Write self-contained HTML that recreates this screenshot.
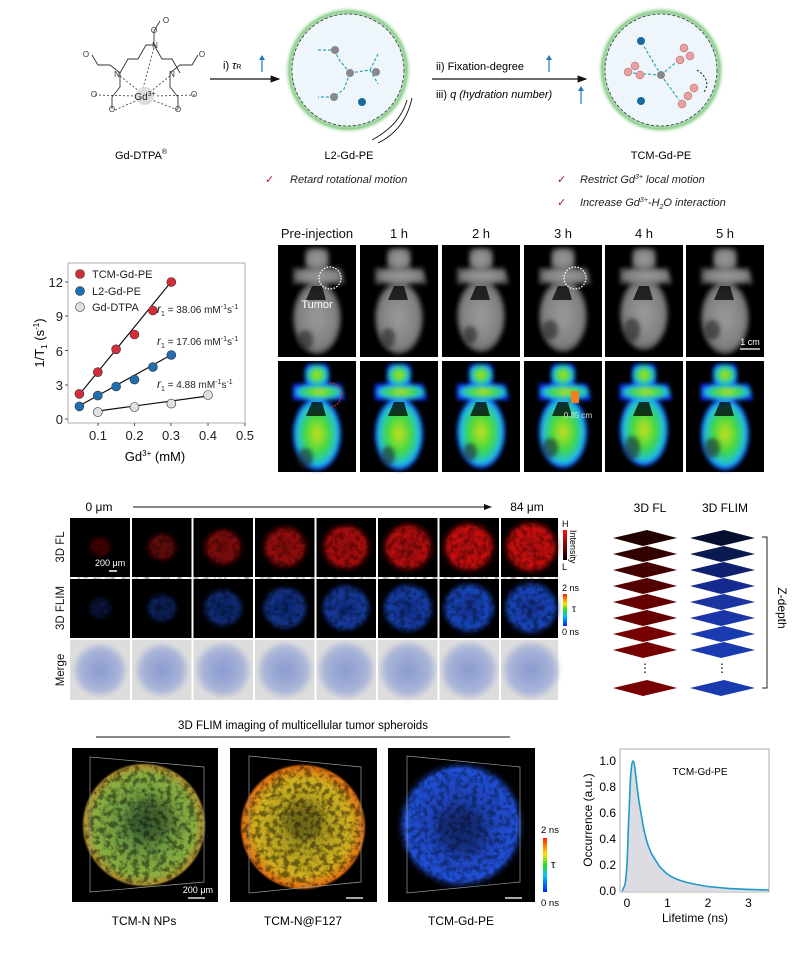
<!DOCTYPE html>
<html><head><meta charset="utf-8"><style>
html,body{margin:0;padding:0;background:#fff}
svg{display:block;font-family:"Liberation Sans",Arial,sans-serif}
</style></head><body>
<svg width="799" height="963" viewBox="0 0 799 963" xmlns="http://www.w3.org/2000/svg">
<defs>
<filter id="b2"><feGaussianBlur stdDeviation="2"/></filter>
<filter id="b4"><feGaussianBlur stdDeviation="4"/></filter>
<filter id="spk" x="0" y="0" width="100%" height="100%"><feTurbulence type="fractalNoise" baseFrequency="0.18" numOctaves="3" seed="4"/><feColorMatrix type="matrix" values="0 0 0 0 0  0 0 0 0 0  0 0 0 0 0  0 0 0 -4 2.3"/></filter>
<clipPath id="c1"><circle cx="144" cy="825" r="60"/></clipPath>
<clipPath id="c2"><circle cx="303" cy="827" r="61"/></clipPath>
<clipPath id="c3"><circle cx="461" cy="825" r="63"/></clipPath>
<radialGradient id="gr" cx="50%" cy="50%" r="50%"><stop offset="0" stop-color="#a01010"/><stop offset="0.75" stop-color="#d01010"/><stop offset="1" stop-color="#300" stop-opacity="0"/></radialGradient>
<radialGradient id="gb" cx="50%" cy="50%" r="50%"><stop offset="0" stop-color="#10308a"/><stop offset="0.8" stop-color="#1a48c0"/><stop offset="1" stop-color="#001" stop-opacity="0"/></radialGradient>
<radialGradient id="gm" cx="50%" cy="50%" r="55%"><stop offset="0" stop-color="#8a9ad0"/><stop offset="0.7" stop-color="#a8b4d8"/><stop offset="1" stop-color="#d8d8dc"/></radialGradient>
<radialGradient id="gs1"><stop offset="0" stop-color="#4a7a40"/><stop offset="0.8" stop-color="#8ab040"/><stop offset="0.95" stop-color="#b09030"/><stop offset="1" stop-color="#000" stop-opacity="0"/></radialGradient>
<radialGradient id="gs2"><stop offset="0" stop-color="#908a20"/><stop offset="0.75" stop-color="#d0b020"/><stop offset="0.95" stop-color="#e07010"/><stop offset="1" stop-color="#000" stop-opacity="0"/></radialGradient>
<radialGradient id="gs3"><stop offset="0" stop-color="#1a3490"/><stop offset="0.85" stop-color="#2050d8"/><stop offset="1" stop-color="#000" stop-opacity="0"/></radialGradient>
<radialGradient id="glow"><stop offset="0.8" stop-color="#e8f4ff"/><stop offset="0.92" stop-color="#8fd08f"/><stop offset="1" stop-color="#fff" stop-opacity="0"/></radialGradient>
<linearGradient id="cbj" x1="0" y1="1" x2="0" y2="0"><stop offset="0" stop-color="#0020ff"/><stop offset="0.3" stop-color="#00c0ff"/><stop offset="0.5" stop-color="#20e020"/><stop offset="0.7" stop-color="#ffe000"/><stop offset="1" stop-color="#ff2000"/></linearGradient>
<linearGradient id="cbr" x1="0" y1="1" x2="0" y2="0"><stop offset="0" stop-color="#000"/><stop offset="1" stop-color="#ff1010"/></linearGradient>
<radialGradient id="jet"><stop offset="0" stop-color="#c8e020"/><stop offset="0.5" stop-color="#40d840"/><stop offset="0.85" stop-color="#20c0e0"/><stop offset="1" stop-color="#1030ff"/></radialGradient>
<radialGradient id="gray"><stop offset="0" stop-color="#9a9a9a"/><stop offset="0.8" stop-color="#808080"/><stop offset="1" stop-color="#505050"/></radialGradient>
<marker id="ah" markerWidth="8" markerHeight="8" refX="7" refY="4" orient="auto"><path d="M0,1 L8,4 L0,7z" fill="#111"/></marker>
</defs>

<!-- ===== Top scheme ===== -->
<g stroke="#333" stroke-width="0.9" fill="none">
<path d="M120,73 l8,-14 l10,0 l8,-14 l8,0 l8,14 l10,0 l8,14"/>
<path d="M154,45 l0,-14 l6,-10"/>
<path d="M120,73 l-10,-8 l-12,0 l-6,-10"/>
<path d="M120,73 l0,14 l-8,10 l0,12"/>
<path d="M170,73 l10,-8 l12,0 l6,-10"/>
<path d="M170,73 l0,14 l8,10 l0,12"/>
</g>
<g stroke="#333" stroke-width="0.8" stroke-dasharray="2,2">
<path d="M120,76 L140,92 M154,48 L143,88 M170,76 L150,92 M95,95 L135,96 M195,95 L155,96 M115,110 L138,100 M178,110 L152,100"/>
</g>
<circle cx="145" cy="96" r="9" fill="#ddd"/>
<text x="145" y="100" font-size="10" text-anchor="middle" fill="#222">Gd<tspan font-size="7" dy="-4">3+</tspan></text>
<g font-size="8" fill="#333" text-anchor="middle">
<text x="117" y="77">N</text><text x="155" y="48">N</text><text x="172" y="77">N</text>
<text x="154" y="33">O</text><text x="166" y="23">O</text><text x="86" y="57">O</text><text x="94" y="97">O</text>
<text x="202" y="57">O</text><text x="194" y="97">O</text><text x="112" y="112">O</text><text x="178" y="112">O</text>
</g>
<text x="141" y="159" font-size="11" text-anchor="middle">Gd-DTPA<tspan font-size="7" dy="-5">®</tspan></text>

<line x1="210" y1="79" x2="279" y2="79" stroke="#111" stroke-width="1.2" marker-end="url(#ah)"/>
<text x="223" y="69" font-size="11">i) <tspan font-style="italic">τ</tspan><tspan font-size="7">R</tspan></text>
<line x1="262" y1="72" x2="262" y2="58" stroke="#1a7ac0" stroke-width="1.2"/><path d="M259,60 l3,-5 l3,5z" fill="#1a7ac0"/>

<circle cx="348" cy="70" r="64" fill="url(#glow)"/>
<circle cx="348" cy="70" r="56" fill="#eef5fb" stroke="#333" stroke-dasharray="3,2" stroke-width="0.8"/>
<g stroke="#2aa5b5" stroke-width="1.2" fill="none" stroke-dasharray="3,2"><path d="M318,50 l16,0 M350,73 l-10,-12 l-6,-11 M350,73 l20,-3 M350,73 l-6,16 l-10,8 l-16,0 M370,70 l8,-16 M370,70 l8,14"/></g>
<g fill="#888"><circle cx="335" cy="50" r="4"/><circle cx="350" cy="73" r="4"/><circle cx="376" cy="72" r="4"/><circle cx="334" cy="97" r="4"/></g>
<circle cx="362" cy="102" r="4" fill="#1a6aa0"/>
<path d="M412,98 Q405,130 378,143 M407,100 Q400,125 372,140" stroke="#111" fill="none" stroke-width="0.9"/>
<text x="349" y="159" font-size="11" text-anchor="middle">L2-Gd-PE</text>

<line x1="432" y1="79" x2="586" y2="79" stroke="#111" stroke-width="1.2" marker-end="url(#ah)"/>
<text x="436" y="70" font-size="11">ii) Fixation-degree</text>
<text x="436" y="98" font-size="11">iii) <tspan font-style="italic">q (hydration number)</tspan></text>
<line x1="549" y1="72" x2="549" y2="58" stroke="#1a7ac0" stroke-width="1.2"/><path d="M546,60 l3,-5 l3,5z" fill="#1a7ac0"/>
<line x1="581" y1="104" x2="581" y2="89" stroke="#1a7ac0" stroke-width="1.2"/><path d="M578,91 l3,-5 l3,5z" fill="#1a7ac0"/>

<circle cx="661" cy="70" r="64" fill="url(#glow)"/>
<circle cx="661" cy="70" r="56" fill="#eef5fb" stroke="#333" stroke-dasharray="3,2" stroke-width="0.8"/>
<g stroke="#2aa5b5" stroke-width="1.2" fill="none" stroke-dasharray="3,2"><path d="M661,75 l-18,-30 M661,75 l-30,-2 M661,75 l18,-15 M661,75 l18,25"/></g>
<circle cx="661" cy="75" r="4" fill="#888"/>
<g fill="#e8a0a0" stroke="#b06060" stroke-width="0.5"><circle cx="628" cy="72" r="4"/><circle cx="635" cy="66" r="4"/><circle cx="640" cy="75" r="4"/><circle cx="684" cy="48" r="4"/><circle cx="690" cy="56" r="4"/><circle cx="680" cy="60" r="4"/><circle cx="688" cy="96" r="4"/><circle cx="694" cy="88" r="4"/><circle cx="682" cy="104" r="4"/></g>
<circle cx="641" cy="41" r="4" fill="#1a6aa0"/><circle cx="641" cy="101" r="4" fill="#1a6aa0"/>
<path d="M697,70 Q712,80 704,92" stroke="#111" fill="none" stroke-dasharray="2,2"/>
<text x="661" y="159" font-size="11" text-anchor="middle">TCM-Gd-PE</text>

<g fill="#a02040" font-size="11"><text x="265" y="183">✓</text><text x="557" y="183">✓</text><text x="557" y="206">✓</text></g>
<g font-size="11" font-style="italic" fill="#222">
<text x="290" y="183">Retard rotational motion</text>
<text x="580" y="183">Restrict Gd<tspan font-size="7" dy="-4">3+</tspan><tspan dy="4"> local motion</tspan></text>
<text x="580" y="206">Increase Gd<tspan font-size="7" dy="-4">3+</tspan><tspan dy="4">-H</tspan><tspan font-size="7" dy="3">2</tspan><tspan dy="-3">O interaction</tspan></text>
</g>

<!-- ===== R1 chart ===== -->
<rect x="68" y="263" width="177" height="160" fill="none" stroke="#999" stroke-width="0.8"/>
<g font-size="13" fill="#222" text-anchor="end">
<text x="63" y="424">0</text><text x="63" y="390">3</text><text x="63" y="356">6</text><text x="63" y="321">9</text><text x="63" y="287">12</text>
</g>
<g stroke="#555"><path d="M68,419h-3M68,385h-3M68,350.5h-3M68,316h-3M68,282h-3M98,423v3M134.5,423v3M171,423v3M208,423v3M245,423v3"/></g>
<g font-size="13" fill="#222" text-anchor="middle">
<text x="98" y="440">0.1</text><text x="134.5" y="440">0.2</text><text x="171" y="440">0.3</text><text x="208" y="440">0.4</text><text x="245" y="440">0.5</text>
</g>
<text x="155" y="461" font-size="13" text-anchor="middle">Gd<tspan font-size="8" dy="-5">3+</tspan><tspan dy="5"> (mM)</tspan></text>
<text transform="translate(44,343) rotate(-90)" font-size="13" text-anchor="middle">1/T<tspan font-size="8" dy="3">1</tspan><tspan dy="-3"> (s</tspan><tspan font-size="8" dy="-5">-1</tspan><tspan dy="5">)</tspan></text>
<g stroke="#111" stroke-width="1.2">
<line x1="79" y1="395" x2="171" y2="282"/><line x1="79" y1="406" x2="171" y2="355"/><line x1="98" y1="411" x2="208" y2="396"/>
</g>
<g stroke="#333" stroke-width="0.6">
<g fill="#d62c3a"><circle cx="79.4" cy="393.9" r="4.5"/><circle cx="97.8" cy="372.2" r="4.5"/><circle cx="116.1" cy="349.3" r="4.5"/><circle cx="134.5" cy="334.5" r="4.5"/><circle cx="152.9" cy="310.5" r="4.5"/><circle cx="171.3" cy="282" r="4.5"/></g>
<g fill="#1f6fb0"><circle cx="79.4" cy="406.4" r="4.5"/><circle cx="97.8" cy="395.6" r="4.5"/><circle cx="116.1" cy="386.5" r="4.5"/><circle cx="134.5" cy="379.6" r="4.5"/><circle cx="152.9" cy="367" r="4.5"/><circle cx="171.3" cy="355" r="4.5"/></g>
<g fill="#e0e0e0"><circle cx="97.8" cy="412.1" r="4.5"/><circle cx="134.5" cy="407" r="4.5"/><circle cx="171.3" cy="403.6" r="4.5"/><circle cx="208" cy="395" r="4.5"/></g>
<circle cx="80" cy="274" r="4.5" fill="#d62c3a"/><circle cx="80" cy="291" r="4.5" fill="#1f6fb0"/><circle cx="80" cy="307" r="4.5" fill="#e0e0e0"/>
</g>
<g font-size="11" fill="#222"><text x="92" y="278">TCM-Gd-PE</text><text x="92" y="295">L2-Gd-PE</text><text x="92" y="311">Gd-DTPA</text></g>
<g font-size="10" fill="#222">
<text x="157" y="313"><tspan font-style="italic" font-size="12">r</tspan><tspan font-size="7" dy="3">1</tspan><tspan dy="-3"> = 38.06 mM</tspan><tspan font-size="7" dy="-4">-1</tspan><tspan dy="4">s</tspan><tspan font-size="7" dy="-4">-1</tspan></text>
<text x="157" y="345"><tspan font-style="italic" font-size="12">r</tspan><tspan font-size="7" dy="3">1</tspan><tspan dy="-3"> = 17.06 mM</tspan><tspan font-size="7" dy="-4">-1</tspan><tspan dy="4">s</tspan><tspan font-size="7" dy="-4">-1</tspan></text>
<text x="157" y="388"><tspan font-style="italic" font-size="12">r</tspan><tspan font-size="7" dy="3">1</tspan><tspan dy="-3"> = 4.88 mM</tspan><tspan font-size="7" dy="-4">-1</tspan><tspan dy="4">s</tspan><tspan font-size="7" dy="-4">-1</tspan></text>
</g>

<!-- ===== MRI grid ===== -->
<g font-size="13" fill="#111" text-anchor="middle">
<text x="317" y="238">Pre-injection</text><text x="399" y="238">1 h</text><text x="481" y="238">2 h</text><text x="563" y="238">3 h</text><text x="644" y="238">4 h</text><text x="725" y="238">5 h</text>
</g>
<g>
<rect x="278" y="245" width="78" height="112" fill="#000"/><rect x="360" y="245" width="78" height="112" fill="#000"/><rect x="442" y="245" width="78" height="112" fill="#000"/><rect x="524" y="245" width="78" height="112" fill="#000"/><rect x="605" y="245" width="78" height="112" fill="#000"/><rect x="686" y="245" width="78" height="112" fill="#000"/>
<rect x="278" y="361" width="78" height="111" fill="#000"/><rect x="360" y="361" width="78" height="111" fill="#000"/><rect x="442" y="361" width="78" height="111" fill="#000"/><rect x="524" y="361" width="78" height="111" fill="#000"/><rect x="605" y="361" width="78" height="111" fill="#000"/><rect x="686" y="361" width="78" height="111" fill="#000"/>
</g>
<g filter="url(#b2)">
<g fill="url(#gray)">
<ellipse cx="317" cy="318" rx="24" ry="36"/><path d="M293,268 l48,0 l4,16 l-52,0z"/><rect x="305" y="248" width="24" height="22" rx="5"/>
<ellipse cx="399" cy="318" rx="24" ry="36"/><path d="M375,268 l48,0 l4,16 l-52,0z"/><rect x="387" y="248" width="24" height="22" rx="5"/>
<ellipse cx="481" cy="316" rx="24" ry="36"/><path d="M457,268 l48,0 l4,16 l-52,0z"/><rect x="469" y="248" width="24" height="22" rx="5"/>
<ellipse cx="563" cy="316" rx="24" ry="36"/><path d="M539,268 l48,0 l4,16 l-52,0z"/><rect x="551" y="248" width="24" height="22" rx="5"/>
<ellipse cx="644" cy="314" rx="24" ry="36"/><path d="M620,268 l48,0 l4,16 l-52,0z"/><rect x="632" y="248" width="24" height="22" rx="5"/>
<ellipse cx="725" cy="318" rx="24" ry="36"/><path d="M701,268 l48,0 l4,16 l-52,0z"/><rect x="713" y="248" width="24" height="22" rx="5"/>
</g>
<g fill="url(#jet)">
<ellipse cx="317" cy="434" rx="24" ry="36"/><path d="M293,384 l48,0 l4,16 l-52,0z"/><rect x="305" y="364" width="24" height="22" rx="5"/>
<ellipse cx="399" cy="434" rx="24" ry="36"/><path d="M375,384 l48,0 l4,16 l-52,0z"/><rect x="387" y="364" width="24" height="22" rx="5"/>
<ellipse cx="481" cy="432" rx="24" ry="36"/><path d="M457,384 l48,0 l4,16 l-52,0z"/><rect x="469" y="364" width="24" height="22" rx="5"/>
<ellipse cx="563" cy="432" rx="24" ry="36"/><path d="M539,384 l48,0 l4,16 l-52,0z"/><rect x="551" y="364" width="24" height="22" rx="5"/>
<ellipse cx="644" cy="430" rx="24" ry="36"/><path d="M620,384 l48,0 l4,16 l-52,0z"/><rect x="632" y="364" width="24" height="22" rx="5"/>
<ellipse cx="725" cy="434" rx="24" ry="36"/><path d="M701,384 l48,0 l4,16 l-52,0z"/><rect x="713" y="364" width="24" height="22" rx="5"/>
</g>
</g>
<g fill="#000" opacity="0.75">
<path d="M306,300 l6,-14 l10,0 l4,14z M388,300 l6,-14 l10,0 l4,14z M470,300 l6,-14 l10,0 l4,14z M552,300 l6,-14 l10,0 l4,14z M633,300 l6,-14 l10,0 l4,14z M714,300 l6,-14 l10,0 l4,14z"/>
<path d="M306,416 l6,-14 l10,0 l4,14z M388,416 l6,-14 l10,0 l4,14z M470,416 l6,-14 l10,0 l4,14z M552,416 l6,-14 l10,0 l4,14z M633,416 l6,-14 l10,0 l4,14z M714,416 l6,-14 l10,0 l4,14z"/>
</g>
<g fill="#222" opacity="0.6" filter="url(#b2)">
<ellipse cx="305" cy="340" rx="8" ry="10"/><ellipse cx="388" cy="338" rx="7" ry="10"/><ellipse cx="470" cy="335" rx="7" ry="9"/><ellipse cx="550" cy="330" rx="8" ry="10"/><ellipse cx="632" cy="330" rx="8" ry="12"/><ellipse cx="712" cy="330" rx="8" ry="10"/>
<ellipse cx="305" cy="458" rx="8" ry="10"/><ellipse cx="388" cy="456" rx="7" ry="10"/><ellipse cx="470" cy="452" rx="7" ry="9"/><ellipse cx="550" cy="448" rx="8" ry="10"/><ellipse cx="632" cy="448" rx="8" ry="12"/><ellipse cx="712" cy="448" rx="8" ry="10"/>
</g>
<circle cx="330" cy="278" r="11" fill="none" stroke="#fff" stroke-width="1.3" stroke-dasharray="1.5,1.5"/>
<circle cx="575" cy="278" r="11" fill="none" stroke="#fff" stroke-width="1.3" stroke-dasharray="1.5,1.5"/>
<path d="M330,383 a11,12 0 0 1 0,24" fill="none" stroke="#e03030" stroke-width="1.3" stroke-dasharray="1.5,1.5"/>
<text x="317" y="308" font-size="11" fill="#fff" text-anchor="middle">Tumor</text>
<text x="750" y="345" font-size="9" fill="#fff" text-anchor="middle">1 cm</text><line x1="740" y1="349" x2="760" y2="349" stroke="#fff" stroke-width="1.3"/>
<rect x="571" y="391" width="8" height="12" fill="#f08020"/>
<text x="578" y="418" font-size="8" fill="#ddd" text-anchor="middle">0.85 cm</text>

<!-- ===== Middle grid ===== -->
<text x="99" y="511" font-size="12" text-anchor="middle">0 μm</text>
<line x1="133" y1="507" x2="491" y2="507" stroke="#111" stroke-width="1" marker-end="url(#ah)"/>
<text x="527" y="511" font-size="12" text-anchor="middle">84 μm</text>
<g font-size="11.5" fill="#111" text-anchor="middle">
<text transform="translate(64,547) rotate(-90)">3D FL</text>
<text transform="translate(64,608) rotate(-90)">3D FLIM</text>
<text transform="translate(64,670) rotate(-90)">Merge</text>
</g>
<g>
<rect x="70" y="518" width="488" height="59" fill="#000"/>
<rect x="70" y="579" width="488" height="59" fill="#000"/>
<rect x="70" y="640" width="488" height="60" fill="#ddd"/>
</g>
<g filter="url(#b2)">
<g fill="url(#gr)">
<ellipse cx="100" cy="547" rx="12" ry="11" opacity="0.35"/><ellipse cx="162" cy="547" rx="16" ry="15" opacity="0.5"/><ellipse cx="223" cy="547" rx="21" ry="20" opacity="0.65"/><ellipse cx="285" cy="547" rx="24" ry="23" opacity="0.75"/><ellipse cx="346" cy="547" rx="26" ry="25" opacity="0.85"/><ellipse cx="408" cy="547" rx="27" ry="26" opacity="0.9"/><ellipse cx="469" cy="547" rx="28" ry="27"/><ellipse cx="531" cy="547" rx="29" ry="28"/>
</g>
<g fill="url(#gb)">
<ellipse cx="100" cy="608" rx="12" ry="11" opacity="0.35"/><ellipse cx="162" cy="608" rx="16" ry="15" opacity="0.5"/><ellipse cx="223" cy="608" rx="21" ry="20" opacity="0.65"/><ellipse cx="285" cy="608" rx="24" ry="23" opacity="0.75"/><ellipse cx="346" cy="608" rx="26" ry="25" opacity="0.85"/><ellipse cx="408" cy="608" rx="27" ry="26" opacity="0.9"/><ellipse cx="469" cy="608" rx="28" ry="27"/><ellipse cx="531" cy="608" rx="29" ry="28"/>
</g>
<g fill="url(#gm)">
<ellipse cx="100" cy="670" rx="26" ry="26"/><ellipse cx="162" cy="670" rx="26" ry="26"/><ellipse cx="223" cy="670" rx="27" ry="27"/><ellipse cx="285" cy="670" rx="27" ry="27"/><ellipse cx="346" cy="670" rx="28" ry="28"/><ellipse cx="408" cy="670" rx="28" ry="28"/><ellipse cx="469" cy="670" rx="28" ry="28"/><ellipse cx="531" cy="670" rx="28" ry="28"/>
</g>
</g>
<rect x="70" y="518" width="488" height="120" filter="url(#spk)" opacity="0.35"/>
<g stroke="#fff" stroke-width="2">
<line x1="131" y1="518" x2="131" y2="700"/><line x1="192.5" y1="518" x2="192.5" y2="700"/><line x1="254" y1="518" x2="254" y2="700"/><line x1="315.5" y1="518" x2="315.5" y2="700"/><line x1="377" y1="518" x2="377" y2="700"/><line x1="438.5" y1="518" x2="438.5" y2="700"/><line x1="500" y1="518" x2="500" y2="700"/>
</g>
<text x="95" y="566" font-size="9" fill="#fff">200 μm</text><line x1="109" y1="571" x2="117" y2="571" stroke="#fff" stroke-width="1.5"/>
<rect x="563" y="530" width="4" height="30" fill="url(#cbr)"/>
<text x="562" y="527" font-size="9">H</text><text x="562" y="570" font-size="9">L</text>
<text transform="translate(570,530) rotate(90)" font-size="9">Intensity</text>
<rect x="563" y="594" width="4" height="32" fill="url(#cbj)"/>
<text x="562" y="591" font-size="9">2 ns</text><text x="562" y="635" font-size="9">0 ns</text><text x="572" y="612" font-size="10">τ</text>

<!-- ===== 3D stacks ===== -->
<text x="650" y="512" font-size="12" text-anchor="middle">3D FL</text>
<text x="725" y="512" font-size="12" text-anchor="middle">3D FLIM</text>
<g>
<path d="M613,538 l34,-8 l30,8 l-34,8z" fill="#200"/><path d="M613,554 l34,-8 l30,8 l-34,8z" fill="#300"/><path d="M613,570 l34,-8 l30,8 l-34,8z" fill="#400"/><path d="M613,586 l34,-8 l30,8 l-34,8z" fill="#500"/><path d="M613,602 l34,-8 l30,8 l-34,8z" fill="#600"/><path d="M613,618 l34,-8 l30,8 l-34,8z" fill="#600"/><path d="M613,634 l34,-8 l30,8 l-34,8z" fill="#700"/><path d="M613,650 l34,-8 l30,8 l-34,8z" fill="#700"/>
<path d="M613,688 l34,-8 l30,8 l-34,8z" fill="#700"/>
<path d="M690,538 l34,-8 l31,8 l-34,8z" fill="#051030"/><path d="M690,554 l34,-8 l31,8 l-34,8z" fill="#0a1a50"/><path d="M690,570 l34,-8 l31,8 l-34,8z" fill="#102070"/><path d="M690,586 l34,-8 l31,8 l-34,8z" fill="#152a90"/><path d="M690,602 l34,-8 l31,8 l-34,8z" fill="#1a35a0"/><path d="M690,618 l34,-8 l31,8 l-34,8z" fill="#1a35a8"/><path d="M690,634 l34,-8 l31,8 l-34,8z" fill="#1a3ab0"/><path d="M690,650 l34,-8 l31,8 l-34,8z" fill="#1a3ab0"/>
<path d="M690,688 l34,-8 l31,8 l-34,8z" fill="#1a3ab0"/>
</g>
<g font-size="12" text-anchor="middle"><text x="645" y="672">⋮</text><text x="722" y="672">⋮</text></g>
<path d="M762,537 h5 v151 h-5" fill="none" stroke="#222" stroke-width="1"/>
<text transform="translate(778,608) rotate(90)" font-size="12" text-anchor="middle">Z-depth</text>

<!-- ===== Bottom spheroids ===== -->
<text x="303" y="729" font-size="11.5" text-anchor="middle">3D FLIM imaging of multicellular tumor spheroids</text>
<line x1="96" y1="737" x2="510" y2="737" stroke="#111" stroke-width="1"/>
<rect x="72" y="748" width="146" height="154" fill="#000"/>
<rect x="230" y="748" width="147" height="154" fill="#000"/>
<rect x="388" y="748" width="147" height="154" fill="#000"/>
<circle cx="144" cy="825" r="63" fill="url(#gs1)"/>
<circle cx="303" cy="827" r="64" fill="url(#gs2)"/>
<circle cx="461" cy="825" r="66" fill="url(#gs3)"/>
<g fill="#000" opacity="0.25" filter="url(#b4)"><circle cx="150" cy="820" r="22"/><circle cx="303" cy="820" r="20"/><circle cx="461" cy="830" r="24"/></g>
<rect x="72" y="748" width="146" height="154" filter="url(#spk)" clip-path="url(#c1)" opacity="0.45"/>
<rect x="230" y="748" width="147" height="154" filter="url(#spk)" clip-path="url(#c2)" opacity="0.45"/>
<rect x="388" y="748" width="147" height="154" filter="url(#spk)" clip-path="url(#c3)" opacity="0.35"/>
<g fill="none" stroke="#999" stroke-width="0.7">
<path d="M90,757 L204,767 L204,882 L90,892 z"/>
<path d="M249,756 L361,767 L361,882 L249,893 z"/>
<path d="M407,756 L520,767 L520,882 L407,893 z"/>
</g>
<text x="213" y="893" font-size="9" fill="#fff" text-anchor="end">200 μm</text>
<g stroke="#ddd" stroke-width="1.5"><line x1="188" y1="898" x2="205" y2="898"/><line x1="346" y1="898" x2="363" y2="898"/><line x1="505" y1="898" x2="522" y2="898"/></g>
<g font-size="12" text-anchor="middle"><text x="144" y="925">TCM-N NPs</text><text x="303" y="925">TCM-N@F127</text><text x="461" y="925">TCM-Gd-PE</text></g>
<rect x="543" y="838" width="4" height="54" fill="url(#cbj)"/>
<text x="541" y="833" font-size="9.5">2 ns</text><text x="541" y="906" font-size="9.5">0 ns</text><text x="551" y="868" font-size="11">τ</text>

<!-- ===== Lifetime chart ===== -->
<path d="M622.1,891 C623.5,889 624,887 625,884.5 C626,879 626.3,874 627,865 C627.8,845 628.2,828 629,813 C629.8,795 630.2,780 631,771.4 C631.8,764 632.3,761 633.1,761 C634,761 634.5,765 635.1,770 C635.8,776 636.4,781 637.1,787 C637.8,793 638.5,798 639.2,802.6 C640.5,810 641.8,818 643.2,826 C644.5,833 645.9,838 647.3,842.9 C648.6,847 650,850 651.3,853.3 C654,858 656.7,862 659.4,866.3 C662,869 664.8,872 667.5,874.1 C674,879 681,881 687.8,882.6 C694,884 701,885.5 708,886.5 L728.3,888.4 L748.5,889.4 L768.8,890 L768.8,891 Z" fill="#dcdce2" stroke="none"/>
<path d="M622.1,891 C623.5,889 624,887 625,884.5 C626,879 626.3,874 627,865 C627.8,845 628.2,828 629,813 C629.8,795 630.2,780 631,771.4 C631.8,764 632.3,761 633.1,761 C634,761 634.5,765 635.1,770 C635.8,776 636.4,781 637.1,787 C637.8,793 638.5,798 639.2,802.6 C640.5,810 641.8,818 643.2,826 C644.5,833 645.9,838 647.3,842.9 C648.6,847 650,850 651.3,853.3 C654,858 656.7,862 659.4,866.3 C662,869 664.8,872 667.5,874.1 C674,879 681,881 687.8,882.6 C694,884 701,885.5 708,886.5 L728.3,888.4 L748.5,889.4 L768.8,890" fill="none" stroke="#1e9ac8" stroke-width="1.6" stroke-linejoin="round"/>
<rect x="620" y="749" width="149" height="143" fill="none" stroke="#999" stroke-width="0.8"/>
<g font-size="12" text-anchor="end"><text x="616" y="895">0.0</text><text x="616" y="869">0.2</text><text x="616" y="843">0.4</text><text x="616" y="817">0.6</text><text x="616" y="791">0.8</text><text x="616" y="765">1.0</text></g>
<g font-size="12" text-anchor="middle"><text x="627" y="907">0</text><text x="667.5" y="907">1</text><text x="708" y="907">2</text><text x="748.5" y="907">3</text></g>
<text x="695" y="922" font-size="12" text-anchor="middle">Lifetime (ns)</text>
<text transform="translate(592,820) rotate(-90)" font-size="12" text-anchor="middle">Occurrence (a.u.)</text>
<text x="700" y="775" font-size="10" text-anchor="middle">TCM-Gd-PE</text>
</svg>
</body></html>
